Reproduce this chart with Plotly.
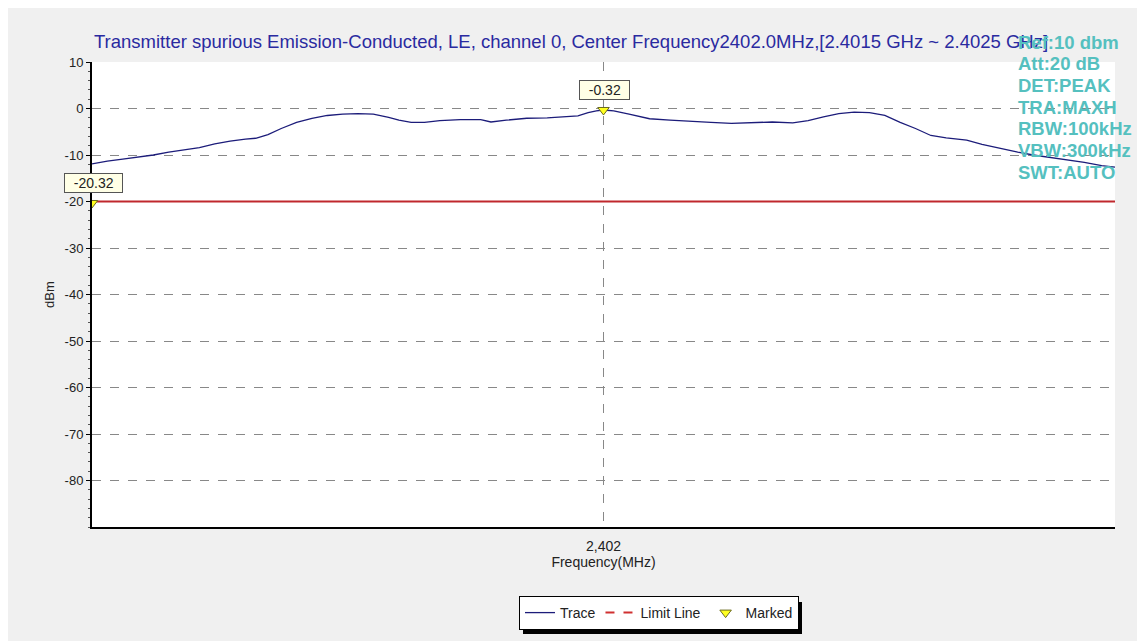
import plotly.graph_objects as go

# ---- data ----
freq_mhz = [2401.500, 2401.515, 2401.530, 2401.545, 2401.560, 2401.575, 2401.590, 2401.605,
            2401.620, 2401.635, 2401.650, 2401.660, 2401.672, 2401.685, 2401.700, 2401.715,
            2401.730, 2401.745, 2401.760, 2401.775, 2401.790, 2401.800, 2401.812, 2401.825,
            2401.840, 2401.860, 2401.880, 2401.890, 2401.905, 2401.925, 2401.945, 2401.965,
            2401.975, 2401.985, 2401.993, 2402.000, 2402.010, 2402.025, 2402.045, 2402.065,
            2402.085, 2402.105, 2402.125, 2402.145, 2402.165, 2402.185, 2402.200, 2402.215,
            2402.230, 2402.245, 2402.260, 2402.275, 2402.290, 2402.305, 2402.320, 2402.335,
            2402.355, 2402.370, 2402.390, 2402.405, 2402.420, 2402.440, 2402.455, 2402.470,
            2402.487, 2402.500]
trace_dbm = [-11.9, -11.3, -10.9, -10.5, -10.0, -9.4, -8.9, -8.4,
             -7.6, -7.0, -6.6, -6.4, -5.6, -4.3, -3.0, -2.1,
             -1.5, -1.2, -1.1, -1.2, -1.9, -2.5, -3.0, -3.0,
             -2.6, -2.4, -2.4, -2.9, -2.5, -2.1, -2.0, -1.8,
             -1.6, -0.9, -0.5, -0.32, -0.5, -1.2, -2.2, -2.5,
             -2.8, -3.0, -3.2, -3.0, -2.9, -3.1, -2.6, -1.8,
             -1.1, -0.8, -0.9, -1.5, -3.0, -4.3, -5.8, -6.3,
             -6.8, -7.7, -8.7, -9.4, -10.0, -10.6, -11.0, -11.6,
             -12.3, -12.6]
limit_freq = [2401.5, 2402.5]
limit_dbm = [-20, -20]
marker_freq = [2401.5, 2402.0]
marker_dbm = [-20.32, -0.32]
marker_labels = ["-20.32", "-0.32"]
y_ticks = [10, 0, -10, -20, -30, -40, -50, -60, -70, -80]
y_ticklabels = ["10", "0", "-10", "-20", "-30", "-40", "-50", "-60", "-70", "-80"]
grid_ticks = [0, -10, -20, -30, -40, -50, -60, -70, -80]
x_ticks = [2402]
x_ticklabels = ["2,402"]
settings = ["Ref:10 dbm", "Att:20 dB", "DET:PEAK", "TRA:MAXH", "RBW:100kHz", "VBW:300kHz", "SWT:AUTO"]
title_text = ("Transmitter spurious Emission-Conducted, LE, channel 0, "
              "Center Frequency2402.0MHz,[2.4015 GHz ~ 2.4025 GHz]")

FONT = "Liberation Sans, Arial, sans-serif"
TXT = "#222222"

fig = go.Figure()
fig.add_trace(go.Scatter(x=freq_mhz, y=trace_dbm, mode="lines", name="Trace",
                         line=dict(color="#1c1c7a", width=1.3)))
fig.add_trace(go.Scatter(x=limit_freq, y=limit_dbm, mode="lines", name="Limit Line",
                         showlegend=False, line=dict(color="#c0282d", width=2)))
fig.add_trace(go.Scatter(x=[None], y=[None], mode="lines", name="Limit Line",
                         line=dict(color="#d03030", width=2, dash="dash")))
fig.add_trace(go.Scatter(x=marker_freq, y=marker_dbm, mode="markers", name="Marked",
                         marker=dict(symbol="triangle-down", size=10, color="#ffff20",
                                     line=dict(color="#6b6b20", width=1))))

for fx, fy, lab in zip(marker_freq, marker_dbm, marker_labels):
    fig.add_annotation(x=fx, y=fy, text="&nbsp;&nbsp;" + lab + "&nbsp;&nbsp;", showarrow=True,
                       arrowcolor="rgba(0,0,0,0)", ax=1, ay=-20, bgcolor="#ffffe6",
                       bordercolor="#555555", borderwidth=1, borderpad=1,
                       font=dict(family=FONT, size=14, color=TXT))

# instrument settings block (one line per annotation)
PLOT_TOP, PLOT_BOTTOM = 54, 519
for i, s in enumerate(settings):
    ypix = 34 + 21.67 * i
    fig.add_annotation(xref="paper", yref="paper", x=(1008 - 84) / 1023,
                       y=(PLOT_BOTTOM - ypix) / (PLOT_BOTTOM - PLOT_TOP),
                       xanchor="left", yanchor="middle", showarrow=False, text=s,
                       font=dict(family=FONT, size=18.5, color="#55c0bf", weight="bold"))

# legend shadow
fig.add_shape(type="rect", xref="paper", yref="paper",
              x0=(515 - 84) / 1023, x1=(794 - 84) / 1023,
              y0=(519 - 626) / 465, y1=(519 - 594) / 465,
              fillcolor="#000000", line=dict(width=0), layer="below")

fig.update_layout(
    width=1145, height=641,
    margin=dict(l=84, r=38, t=54, b=122, autoexpand=False),
    paper_bgcolor="#f0f0f0", plot_bgcolor="#ffffff",
    font=dict(family=FONT, size=12, color=TXT),
    title=dict(text=title_text, x=86 / 1145, xanchor="left", xref="container",
               y=1 - 34 / 641, yanchor="middle", yref="container",
               font=dict(family=FONT, size=18.5, color="#2a2aa0")),
    showlegend=True,
    legend=dict(orientation="h", x=(511 - 84) / 1023, xanchor="left",
                y=(519 - 588) / 465, yanchor="top",
                bgcolor="#ffffff", bordercolor="#000000", borderwidth=1,
                font=dict(family=FONT, size=14, color=TXT),
                itemwidth=30, tracegroupgap=0),
    xaxis=dict(range=[2401.5, 2402.5], tickvals=x_ticks, ticktext=x_ticklabels,
               showgrid=True, gridcolor="#888888", griddash="dash", gridwidth=1,
               showline=True, linecolor="#000000", linewidth=2, zeroline=False,
               ticks="outside", ticklen=5, tickcolor="rgba(0,0,0,0)",
               tickfont=dict(family=FONT, size=14, color=TXT),
               title=dict(text="Frequency(MHz)", standoff=4,
                          font=dict(family=FONT, size=14, color=TXT))),
    yaxis=dict(range=[-90, 10], tickvals=grid_ticks, showticklabels=False,
               showgrid=True, gridcolor="#888888", griddash="dash", gridwidth=1,
               showline=False, zeroline=False, ticks=""),
    yaxis2=dict(range=[-90, 10], overlaying="y", side="left", tickvals=y_ticks,
                ticktext=y_ticklabels,
                showgrid=False, zeroline=False, showline=True, linecolor="#000000", linewidth=2,
                ticks="outside", ticklen=4, tickcolor="#000000",
                minor=dict(ticks="outside", ticklen=2, dtick=2, tickcolor="#555555", showgrid=False),
                tickfont=dict(family=FONT, size=13, color=TXT),
                title=dict(text="dBm", standoff=7, font=dict(family=FONT, size=13, color=TXT))),
)
fig.add_trace(go.Scatter(x=[None], y=[None], yaxis="y2", showlegend=False, hoverinfo="skip"))

fig.write_html("out.html")
